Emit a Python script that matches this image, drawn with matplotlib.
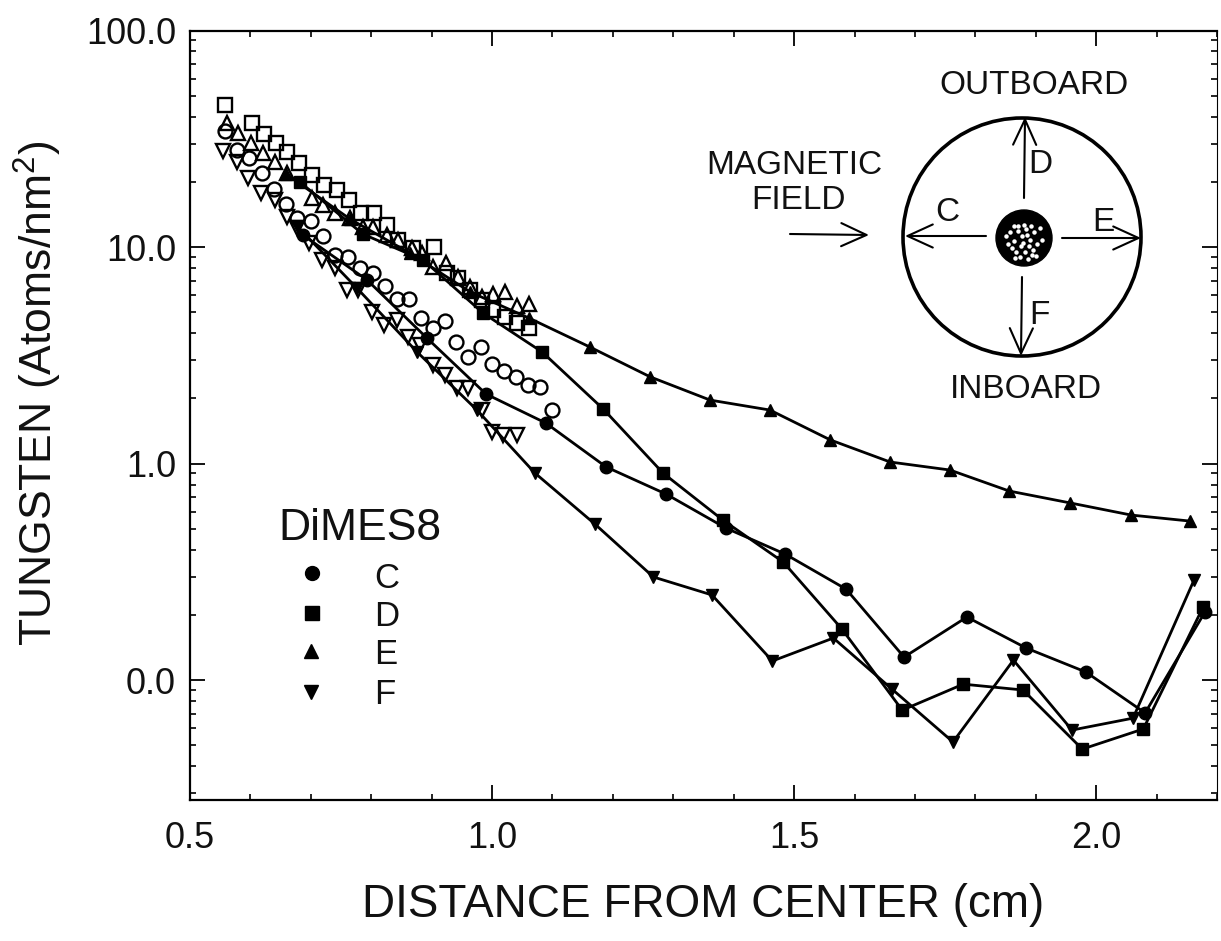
import numpy as np
import matplotlib
matplotlib.use("Agg")
import matplotlib.pyplot as plt
from matplotlib.patches import Circle, FancyArrowPatch
from matplotlib.ticker import FixedLocator, FixedFormatter, NullFormatter

plt.rcParams['font.family'] = ['Liberation Sans', 'DejaVu Sans']
plt.rcParams['mathtext.fontset'] = 'custom'
plt.rcParams['mathtext.rm'] = 'Liberation Sans'
plt.rcParams['mathtext.default'] = 'regular'

# Filled series: distance (cm), log10 tungsten (atoms/nm^2)
c_x = [.687,.793,.892,.990,1.089,1.189,1.288,1.387,1.485,1.586,1.682,1.786,1.884,1.983,2.081,2.180]
c_log = [1.055,.848,.580,.321,.187,-.016,-.141,-.298,-.418,-.580,-.894,-.709,-.852,-.963,-1.152,-.686]
d_x = [.682,.786,.886,.985,1.083,1.184,1.283,1.382,1.482,1.579,1.679,1.780,1.879,1.977,2.078,2.177]
d_log = [1.300,1.060,.940,.695,.515,.252,-.044,-.261,-.455,-.764,-1.139,-1.019,-1.046,-1.319,-1.226,-.663]
e_x = [.659,.765,.864,.964,1.061,1.162,1.262,1.361,1.460,1.560,1.659,1.758,1.856,1.957,2.058,2.156]
e_log = [1.337,1.129,.972,.792,.672,.538,.400,.293,.247,.109,.007,-.030,-.127,-.182,-.238,-.266]
f_x = [.677,.776,.876,.975,1.071,1.170,1.267,1.364,1.464,1.565,1.662,1.763,1.863,1.960,2.061,2.162]
f_log = [1.097,.811,.515,.247,-.044,-.279,-.524,-.607,-.912,-.806,-1.042,-1.286,-.908,-1.231,-1.176,-.538]

# Open series
os_x = [.558,.603,.623,.642,.661,.680,.702,.722,.743,.763,.783,.805,.826,.844,.869,.904,.925,.944,.964,.983,1.002,1.022,1.041,1.061]
os_log = [1.656,1.573,1.522,1.480,1.439,1.388,1.333,1.286,1.263,1.217,1.157,1.157,1.102,1.032,.995,1.000,.880,.857,.801,.755,.709,.677,.649,.626]
ou_x = [.561,.579,.601,.621,.641,.661,.702,.720,.740,.765,.786,.803,.826,.844,.868,.884,.902,.924,.944,.964,.983,1.002,1.022,1.041,1.061]
ou_log = [1.573,1.527,1.480,1.434,1.393,1.342,1.226,1.194,1.157,1.134,1.092,1.092,1.055,1.032,.995,.972,.908,.926,.861,.815,.769,.783,.792,.727,.737]
oc_x = [.558,.578,.598,.619,.639,.659,.677,.700,.720,.740,.762,.781,.803,.823,.843,.863,.882,.902,.922,.940,.960,.982,1.000,1.020,1.040,1.060,1.079,1.099]
oc_log = [1.536,1.448,1.411,1.342,1.268,1.199,1.134,1.120,1.051,.963,.954,.903,.880,.820,.760,.760,.672,.626,.658,.561,.492,.538,.460,.427,.400,.363,.353,.247]
od_x = [.555,.578,.596,.618,.641,.661,.677,.697,.719,.740,.760,.778,.801,.821,.843,.861,.881,.902,.922,.942,.960,.983,1.000,1.018,1.041]
od_log = [1.443,1.393,1.319,1.249,1.217,1.139,1.088,1.018,.940,.903,.801,.801,.700,.640,.663,.584,.547,.455,.409,.349,.349,.247,.145,.132,.132]

x_ticks = [0.5, 1.0, 1.5, 2.0]
x_labels = ['0.5', '1.0', '1.5', '2.0']
y_ticks = [100, 10, 1, 0.1]
y_labels = ['100.0', '10.0', '1.0', '0.0']
legend_names = ['C', 'D', 'E', 'F']
legend_markers = ['o', 's', '^', 'v']

W, H = 1221, 941
INK = '#111111'
fig = plt.figure(figsize=(W/100, H/100), dpi=100, facecolor='white')
ax = fig.add_axes([190/W, 1-800/H, 1027/W, 769.5/H])
ax.set_xlim(0.5, 2.2)
ax.set_yscale('log')
ax.set_ylim(10**-1.554, 100)

for x, y, m in [(os_x, os_log, 's'), (ou_x, ou_log, '^'), (oc_x, oc_log, 'o'), (od_x, od_log, 'v')]:
    ax.plot(x, 10**np.array(y), ls='none', marker=m, ms=10, mfc='none', mec='black', mew=1.7, zorder=2)
for x, y, m in [(c_x, c_log, 'o'), (d_x, d_log, 's'), (e_x, e_log, '^'), (f_x, f_log, 'v')]:
    ax.plot(x, 10**np.array(y), color='black', lw=2.0, marker=m, ms=9, mfc='black', mec='black', zorder=3)

ax.xaxis.set_major_locator(FixedLocator(x_ticks))
ax.xaxis.set_major_formatter(FixedFormatter(x_labels))
ax.xaxis.set_minor_locator(FixedLocator(np.arange(0.5, 2.21, 0.1)))
ax.xaxis.set_minor_formatter(NullFormatter())
ax.yaxis.set_major_locator(FixedLocator(y_ticks))
ax.yaxis.set_major_formatter(FixedFormatter(y_labels))
ax.yaxis.set_minor_locator(FixedLocator([m*10.0**e for e in (-2, -1, 0, 1) for m in range(2, 10)]))
ax.yaxis.set_minor_formatter(NullFormatter())
ax.tick_params(which='major', direction='in', length=11, width=1.3, top=True, right=True,
               labelsize=26, labelcolor=INK, pad=10)
ax.tick_params(axis='x', which='major', pad=15)
ax.tick_params(which='minor', direction='in', length=4.5, width=1.2, top=True, right=True)
for s in ax.spines.values():
    s.set_linewidth(1.6)
ax.spines['right'].set_linewidth(0.8)
ax.set_xlabel('DISTANCE FROM CENTER (cm)', fontsize=33, color=INK)
ax.set_ylabel('TUNGSTEN (Atoms/nm$^2$)', fontsize=32, color=INK)
ax.xaxis.set_label_coords(0.5, -0.108)
ax.yaxis.set_label_coords(-0.1227, 0.528)

# Schematic and legend, laid out in figure pixels
ov = fig.add_axes([0, 0, 1, 1], facecolor='none')
ov.set_xlim(0, W)
ov.set_ylim(H, 0)
ov.axis('off')
ov.add_patch(Circle((1022, 237), 119, fc='none', ec='black', lw=2.6))
ov.add_patch(Circle((1024, 238), 28, fc='black', ec='black'))
speck_x = [1006,1010,1014,1018,1022,1026,1030,1034,1040,1012,1016,1021,1025,1029,1033,1037,1008,1015,1020,1024,1028,1032,1036,1018,1023,1027,1031,1014,1042]
speck_y = [236,232,241,226,236,229,240,232,228,248,252,246,252,246,250,244,244,258,257,225,259,255,256,231,243,235,226,226,240]
ov.plot(speck_x, speck_y, ls='none', marker='o', ms=2.2, mfc='white', mec='white')

arrows = [((986, 236), (905, 236)), ((1024, 198), (1025, 117)), ((1062, 238), (1141, 238)),
          ((1022, 277), (1021, 356)), ((790, 234), (869, 235))]
for a, b in arrows:
    ov.add_patch(FancyArrowPatch(a, b, arrowstyle='->,head_length=7,head_width=3.2', mutation_scale=2.6,
                                 lw=1.5, color='black', shrinkA=0, shrinkB=0))

notes = [('OUTBOARD', 1034, 85), ('INBOARD', 1026, 390), ('MAGNETIC', 794, 165), ('FIELD', 799, 200),
         ('C', 947, 212), ('D', 1040, 164), ('E', 1103, 222), ('F', 1039, 315)]
for t, x, y in notes:
    ov.text(x, y, t, fontsize=24, ha='center', va='center', color=INK)
ov.text(278, 529, 'DiMES8', fontsize=32, ha='left', va='center', color=INK)
lx = [312, 312, 311, 311]
ly = [573, 613, 651, 692]
ty = [578, 617, 655, 695]
for n, m, x, y, t in zip(legend_names, legend_markers, lx, ly, ty):
    ov.plot([x], [y], marker=m, ms=10, color='black', ls='none')
    ov.text(374, t, n, fontsize=25, ha='left', va='center', color=INK)

fig.savefig('out.png', dpi=100)
